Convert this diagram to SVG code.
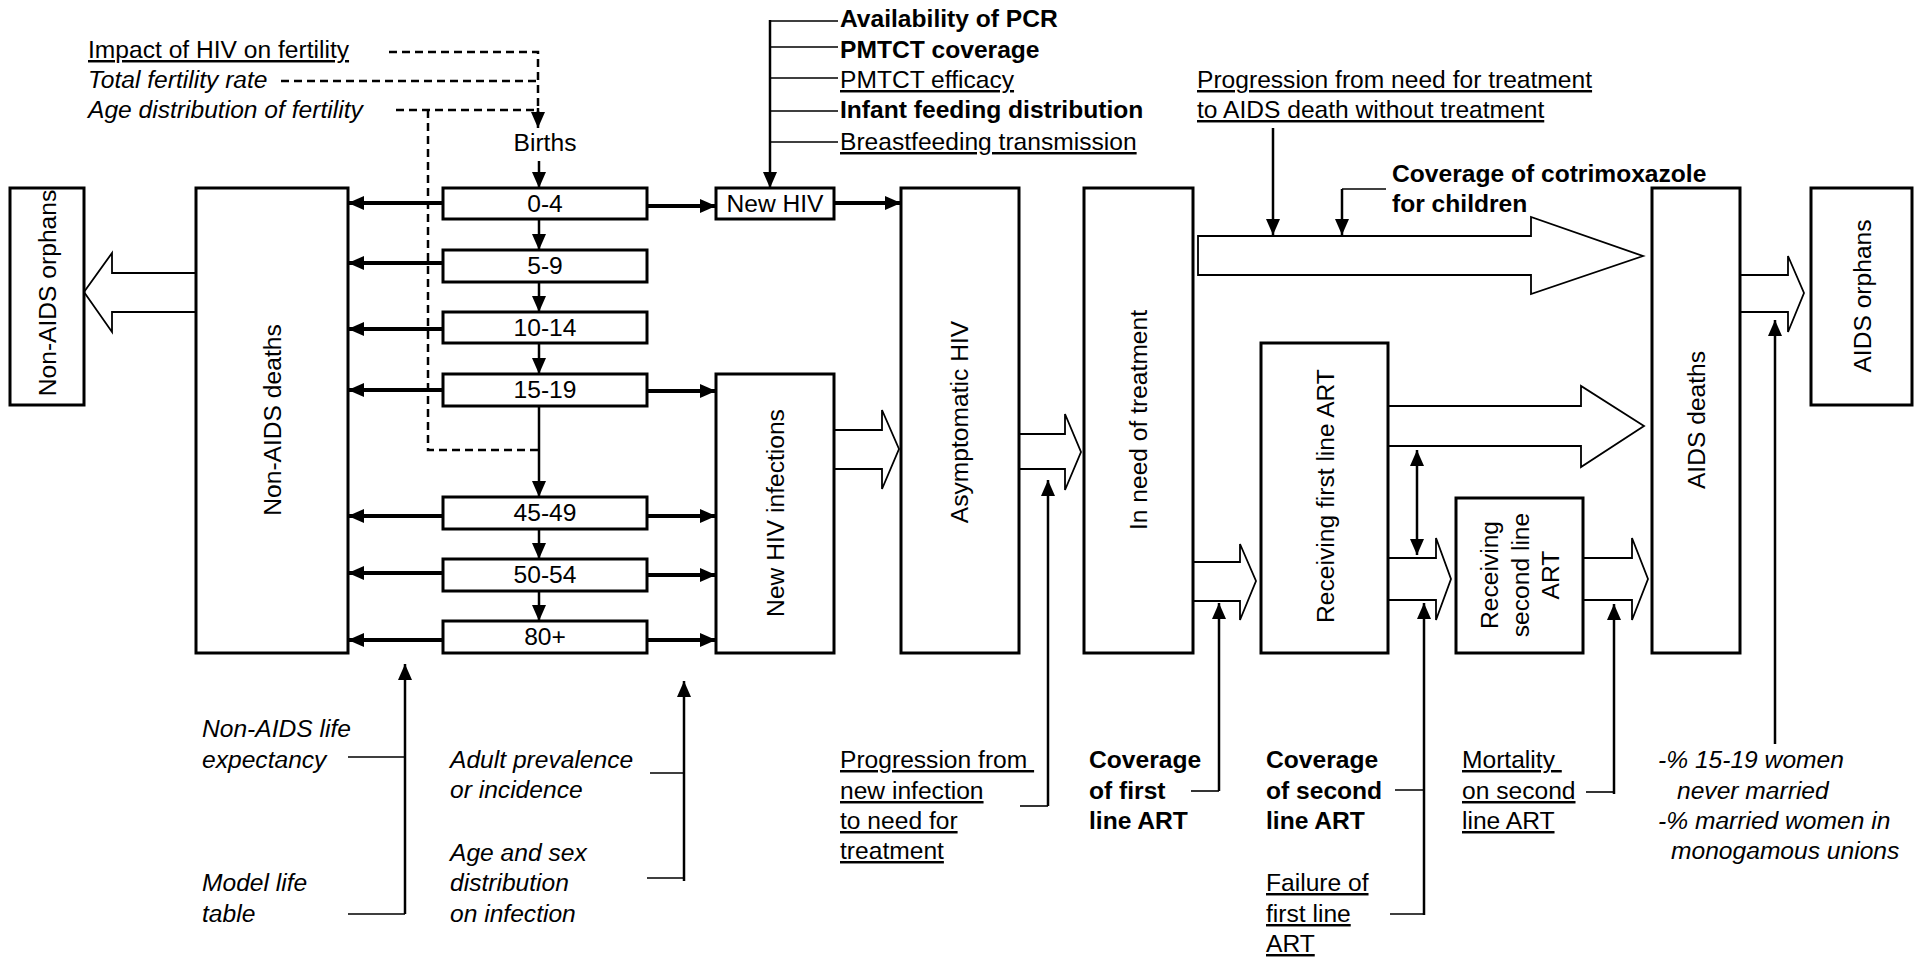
<svg xmlns="http://www.w3.org/2000/svg" width="1927" height="959" viewBox="0 0 1927 959">
<style>
text{font-family:"Liberation Sans",Arial,sans-serif;font-size:24.6px;fill:#000}
.i{font-style:italic}
.b{font-weight:bold}
.u{text-decoration:underline;white-space:pre}
.c{text-anchor:middle}
.box{fill:#fff;stroke:#000;stroke-width:3}
.flow{stroke:#000;stroke-width:4;fill:none}
.feed{stroke:#000;stroke-width:2.5;fill:none}
.tick{stroke:#000;stroke-width:1.6;fill:none}
.dash{stroke:#000;stroke-width:2.5;fill:none;stroke-dasharray:8,5}
.hollow{fill:#fff;stroke:#000;stroke-width:1.8;stroke-linejoin:miter}
</style>
<defs>
<marker id="ah" markerUnits="userSpaceOnUse" markerWidth="18" markerHeight="16" refX="16" refY="7" orient="auto"><path d="M0,0 L16,7 L0,14 z" fill="#000"/></marker>
<marker id="ahs" markerUnits="userSpaceOnUse" markerWidth="18" markerHeight="16" refX="16" refY="7" orient="auto-start-reverse"><path d="M0,0 L16,7 L0,14 z" fill="#000"/></marker>
</defs>
<rect width="1927" height="959" fill="#fff"/>

<!-- connectors -->
<g id="connectors">
  <!-- fertility dashed inputs -->
  <path class="dash" d="M389,52 H538 V112"/>
  <path class="dash" d="M281,81 H538"/>
  <path class="dash" d="M396,110 H538"/>
  <path class="dash" d="M428,110 V450 H538"/>
  <line class="feed" x1="538" y1="108" x2="538" y2="128" marker-end="url(#ah)"/>
  <line class="feed" x1="539" y1="161" x2="539" y2="188" marker-end="url(#ah)"/>
  <!-- ageing -->
  <line class="feed" x1="539" y1="219" x2="539" y2="250" marker-end="url(#ah)"/>
  <line class="feed" x1="539" y1="282" x2="539" y2="312" marker-end="url(#ah)"/>
  <line class="feed" x1="539" y1="343" x2="539" y2="374" marker-end="url(#ah)"/>
  <line class="feed" x1="539" y1="406" x2="539" y2="497" marker-end="url(#ah)"/>
  <line class="feed" x1="539" y1="529" x2="539" y2="559" marker-end="url(#ah)"/>
  <line class="feed" x1="539" y1="591" x2="539" y2="621" marker-end="url(#ah)"/>
  <!-- to non-AIDS deaths -->
  <line class="flow" x1="443" y1="203" x2="348" y2="203" marker-end="url(#ah)"/>
  <line class="flow" x1="443" y1="263" x2="348" y2="263" marker-end="url(#ah)"/>
  <line class="flow" x1="443" y1="329" x2="348" y2="329" marker-end="url(#ah)"/>
  <line class="flow" x1="443" y1="390" x2="348" y2="390" marker-end="url(#ah)"/>
  <line class="flow" x1="443" y1="516" x2="348" y2="516" marker-end="url(#ah)"/>
  <line class="flow" x1="443" y1="573" x2="348" y2="573" marker-end="url(#ah)"/>
  <line class="flow" x1="443" y1="640" x2="348" y2="640" marker-end="url(#ah)"/>
  <!-- to new HIV -->
  <line class="flow" x1="647" y1="206" x2="716" y2="206" marker-end="url(#ah)"/>
  <line class="flow" x1="834" y1="203" x2="901" y2="203" marker-end="url(#ah)"/>
  <line class="flow" x1="647" y1="391" x2="716" y2="391" marker-end="url(#ah)"/>
  <line class="flow" x1="647" y1="516" x2="716" y2="516" marker-end="url(#ah)"/>
  <line class="flow" x1="647" y1="575" x2="716" y2="575" marker-end="url(#ah)"/>
  <line class="flow" x1="647" y1="640" x2="716" y2="640" marker-end="url(#ah)"/>
  <!-- PMTCT feeder -->
  <line class="feed" x1="770" y1="20" x2="770" y2="188" marker-end="url(#ah)"/>
  <path class="tick" d="M770,21 H838 M770,47 H838 M770,78 H838 M770,111 H838 M770,142 H838"/>
  <!-- hollow flows -->
  <polygon class="hollow" points="196,273 112,273 112,253 84,292 112,332 112,312 196,312"/>
  <polygon class="hollow" points="834,430 882,430 882,410 899,449 882,489 882,469 834,469"/>
  <polygon class="hollow" points="1019,434 1065,434 1065,414 1081,452 1065,490 1065,469 1019,469"/>
  <polygon class="hollow" points="1193,562 1240,562 1240,544 1256,581 1240,620 1240,601 1193,601"/>
  <polygon class="hollow" points="1198,236 1531,236 1531,217 1643,256 1531,294 1531,275 1198,275"/>
  <polygon class="hollow" points="1388,406 1581,406 1581,386 1644,426 1581,467 1581,446 1388,446"/>
  <polygon class="hollow" points="1388,558 1436,558 1436,538 1451,579 1436,620 1436,600 1388,600"/>
  <polygon class="hollow" points="1583,558 1632,558 1632,538 1648,579 1632,620 1632,600 1583,600"/>
  <polygon class="hollow" points="1740,275 1788,275 1788,256 1804,293 1788,332 1788,312 1740,312"/>
  <!-- top parameter arrows -->
  <line class="feed" x1="1273" y1="128" x2="1273" y2="235" marker-end="url(#ah)"/>
  <path class="tick" d="M1386,189 H1342"/>
  <line class="feed" x1="1342" y1="189" x2="1342" y2="235" marker-end="url(#ah)"/>
  <!-- double arrow -->
  <line class="feed" x1="1417" y1="450" x2="1417" y2="555" marker-start="url(#ahs)" marker-end="url(#ah)"/>
  <!-- bottom parameter arrows -->
  <line class="feed" x1="405" y1="914" x2="405" y2="664" marker-end="url(#ah)"/>
  <path class="tick" d="M348,757 H405 M348,914 H405"/>
  <line class="feed" x1="684" y1="881" x2="684" y2="681" marker-end="url(#ah)"/>
  <path class="tick" d="M650,773 H684 M647,878 H684"/>
  <line class="feed" x1="1048" y1="806" x2="1048" y2="480" marker-end="url(#ah)"/>
  <path class="tick" d="M1020,806 H1048"/>
  <line class="feed" x1="1219" y1="791" x2="1219" y2="603" marker-end="url(#ah)"/>
  <path class="tick" d="M1191,791 H1219"/>
  <line class="feed" x1="1424" y1="915" x2="1424" y2="603" marker-end="url(#ah)"/>
  <path class="tick" d="M1395,790 H1424 M1390,914 H1424"/>
  <line class="feed" x1="1614" y1="794" x2="1614" y2="604" marker-end="url(#ah)"/>
  <path class="tick" d="M1586,792 H1614"/>
  <line class="feed" x1="1775" y1="744" x2="1775" y2="320" marker-end="url(#ah)"/>
</g>

<!-- nodes -->
<g id="non-aids-orphans"><rect class="box" x="10" y="188" width="74" height="217"/><text class="c" transform="translate(56,293) rotate(-90)">Non-AIDS orphans</text></g>
<g id="non-aids-deaths"><rect class="box" x="196" y="188" width="152" height="465"/><text class="c" transform="translate(281,420) rotate(-90)">Non-AIDS deaths</text></g>
<g id="births"><text class="c" x="545" y="151">Births</text></g>
<g id="age-0-4"><rect class="box" x="443" y="188" width="204" height="31"/><text class="c" x="545" y="212">0-4</text></g>
<g id="age-5-9"><rect class="box" x="443" y="250" width="204" height="32"/><text class="c" x="545" y="274">5-9</text></g>
<g id="age-10-14"><rect class="box" x="443" y="312" width="204" height="31"/><text class="c" x="545" y="336">10-14</text></g>
<g id="age-15-19"><rect class="box" x="443" y="374" width="204" height="32"/><text class="c" x="545" y="398">15-19</text></g>
<g id="age-45-49"><rect class="box" x="443" y="497" width="204" height="32"/><text class="c" x="545" y="521">45-49</text></g>
<g id="age-50-54"><rect class="box" x="443" y="559" width="204" height="32"/><text class="c" x="545" y="583">50-54</text></g>
<g id="age-80"><rect class="box" x="443" y="621" width="204" height="32"/><text class="c" x="545" y="645">80+</text></g>
<g id="new-hiv"><rect class="box" x="716" y="188" width="118" height="31"/><text class="c" x="775" y="212">New HIV</text></g>
<g id="new-hiv-infections"><rect class="box" x="716" y="374" width="118" height="279"/><text class="c" transform="translate(784,513) rotate(-90)">New HIV infections</text></g>
<g id="asymptomatic-hiv"><rect class="box" x="901" y="188" width="118" height="465"/><text class="c" transform="translate(968,422) rotate(-90)">Asymptomatic HIV</text></g>
<g id="in-need"><rect class="box" x="1084" y="188" width="109" height="465"/><text class="c" transform="translate(1147,420) rotate(-90)">In need of treatment</text></g>
<g id="first-line"><rect class="box" x="1261" y="343" width="127" height="310"/><text class="c" transform="translate(1334,496) rotate(-90)">Receiving first line ART</text></g>
<g id="second-line"><rect class="box" x="1456" y="498" width="127" height="155"/>
  <text class="c" transform="translate(1498,575) rotate(-90)">Receiving</text>
  <text class="c" transform="translate(1529,575) rotate(-90)">second line</text>
  <text class="c" transform="translate(1559,575) rotate(-90)">ART</text></g>
<g id="aids-deaths"><rect class="box" x="1652" y="188" width="88" height="465"/><text class="c" transform="translate(1705,420) rotate(-90)">AIDS deaths</text></g>
<g id="aids-orphans"><rect class="box" x="1811" y="188" width="101" height="217"/><text class="c" transform="translate(1871,296) rotate(-90)">AIDS orphans</text></g>

<!-- parameter labels -->
<g id="labels">
  <text class="u" x="88" y="58">Impact of HIV on fertility</text>
  <text class="i" x="88" y="88">Total fertility rate</text>
  <text class="i" x="88" y="118">Age distribution of fertility</text>

  <text class="b" x="840" y="27">Availability of PCR</text>
  <text class="b" x="840" y="58">PMTCT coverage</text>
  <text class="u" x="840" y="88">PMTCT efficacy</text>
  <text class="b" x="840" y="118">Infant feeding distribution</text>
  <text class="u" x="840" y="150">Breastfeeding transmission</text>

  <text class="u" x="1197" y="88">Progression from need for treatment</text>
  <text class="u" x="1197" y="118">to AIDS death without treatment</text>
  <text class="b" x="1392" y="182">Coverage of cotrimoxazole</text>
  <text class="b" x="1392" y="212">for children</text>

  <text class="i" x="202" y="737">Non-AIDS life</text>
  <text class="i" x="202" y="768">expectancy</text>
  <text class="i" x="202" y="891">Model life</text>
  <text class="i" x="202" y="922">table</text>

  <text class="i" x="450" y="768">Adult prevalence</text>
  <text class="i" x="450" y="798">or incidence</text>
  <text class="i" x="450" y="861">Age and sex</text>
  <text class="i" x="450" y="891">distribution</text>
  <text class="i" x="450" y="922">on infection</text>

  <text class="u" x="840" y="768">Progression from </text>
  <text class="u" x="840" y="799">new infection</text>
  <text class="u" x="840" y="829">to need for</text>
  <text class="u" x="840" y="859">treatment</text>

  <text class="b" x="1089" y="768">Coverage</text>
  <text class="b" x="1089" y="799">of first</text>
  <text class="b" x="1089" y="829">line ART</text>

  <text class="b" x="1266" y="768">Coverage</text>
  <text class="b" x="1266" y="799">of second</text>
  <text class="b" x="1266" y="829">line ART</text>
  <text class="u" x="1266" y="891">Failure of</text>
  <text class="u" x="1266" y="922">first line</text>
  <text class="u" x="1266" y="952">ART</text>

  <text class="u" x="1462" y="768">Mortality </text>
  <text class="u" x="1462" y="799">on second</text>
  <text class="u" x="1462" y="829">line ART</text>

  <text class="i" x="1658" y="768">-% 15-19 women</text>
  <text class="i" x="1677" y="799">never married</text>
  <text class="i" x="1658" y="829">-% married women in</text>
  <text class="i" x="1671" y="859">monogamous unions</text>
</g>
</svg>
